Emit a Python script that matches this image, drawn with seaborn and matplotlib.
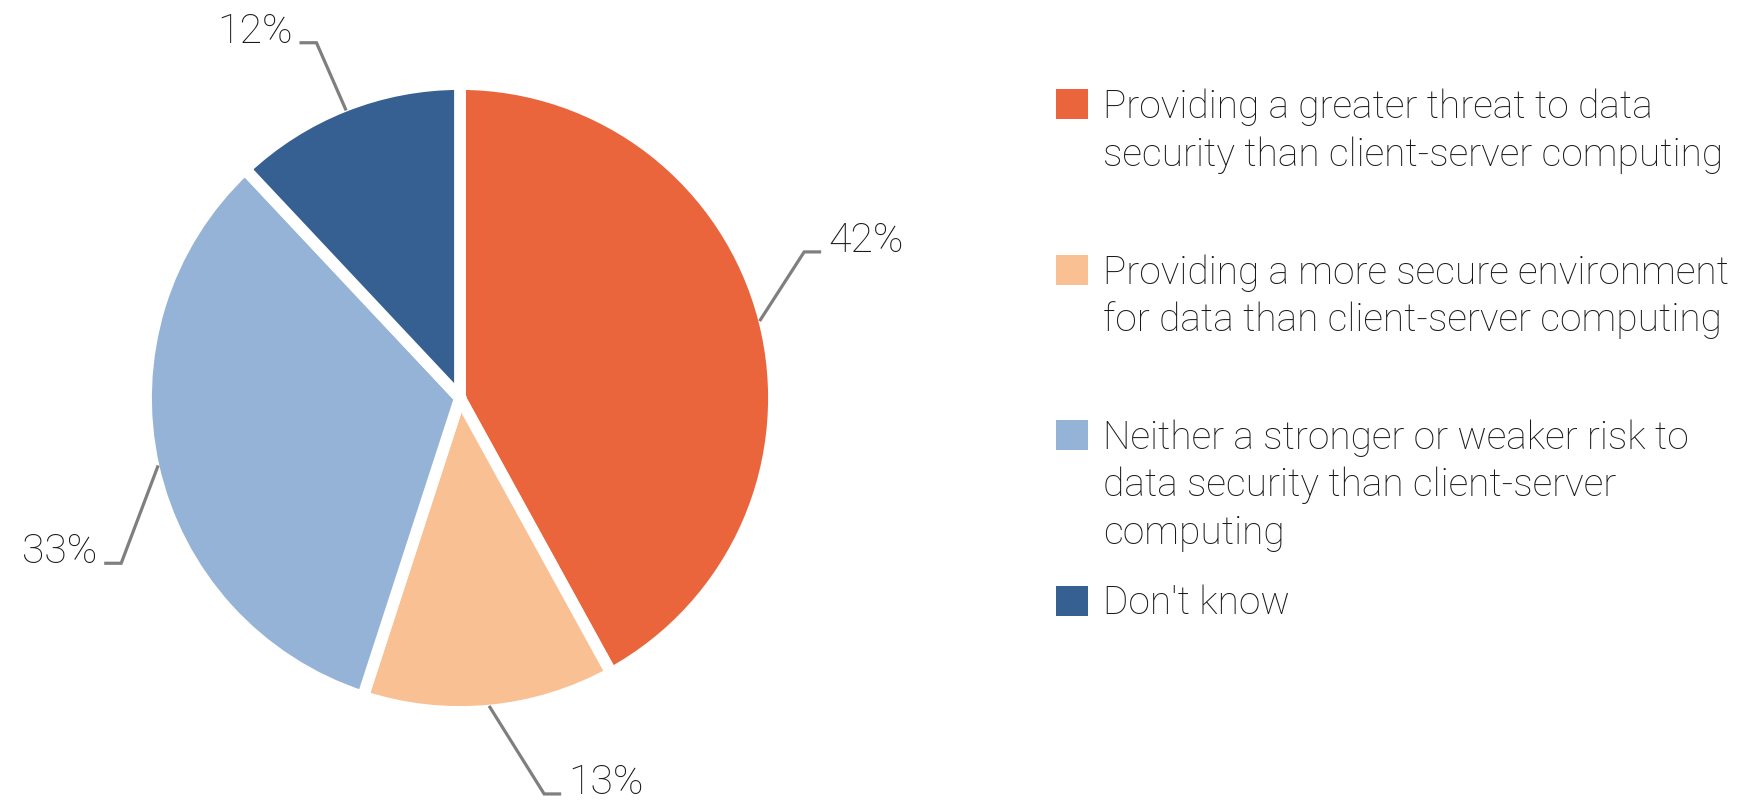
import matplotlib
matplotlib.use("Agg")
import matplotlib.pyplot as plt
import matplotlib.patches as mpatches
import numpy as np
import seaborn as sns

# ---- data ----
categories = [
    "Providing a greater threat to data\nsecurity than client-server computing",
    "Providing a more secure environment\nfor data than client-server computing",
    "Neither a stronger or weaker risk to\ndata security than client-server\ncomputing",
    "Don't know",
]
values = [42, 13, 33, 12]
pct_labels = ["42%", "13%", "33%", "12%"]
colors = ["#EA653B", "#F9C193", "#95B3D7", "#366092"]

sns.set_theme(style="white")
plt.rcParams["font.family"] = ["Roboto", "DejaVu Sans"]

W, H = 1754, 801
fig = plt.figure(figsize=(W / 100, H / 100), dpi=100)
ax = fig.add_axes([0, 0, 1, 1])

R = 314
cx, cy = 460, H - 398
palette = sns.color_palette(colors)
wedges, _ = ax.pie(values, colors=palette, startangle=90, counterclock=False,
                   radius=R, center=(cx, cy),
                   wedgeprops=dict(edgecolor="white", linewidth=8.5))
ax.set_xlim(0, W)
ax.set_ylim(0, H)
ax.set_aspect("equal")
ax.axis("off")

# leader line layout: (elbow angle deg, elbow radius frac, direction)
leader = [(23, 1.21, 1), (-78, 1.31, 1), (-154, 1.22, -1), (112, 1.24, -1)]
line_col = "#7f7f7f"
txt_col = "#1a1a1a"
for w, lab, (ea, er, d) in zip(wedges, pct_labels, leader):
    mid = np.deg2rad((w.theta1 + w.theta2) / 2)
    x0, y0 = cx + 0.985 * R * np.cos(mid), cy + 0.985 * R * np.sin(mid)
    ear = np.deg2rad(ea)
    x1, y1 = cx + er * 309 * np.cos(ear), cy + er * 309 * np.sin(ear)
    x2 = x1 + d * 17
    ax.plot([x0, x1, x2], [y0, y1, y1], color=line_col, lw=2.3,
            solid_joinstyle="miter", solid_capstyle="butt")
    ax.text(x2 + d * 7, y1, lab, ha="left" if d > 0 else "right",
            va="baseline", fontsize=29.5, color=txt_col, fontweight="light")

# legend
lx_box, box_w, box_h = 1056, 32, 30
lx_txt = 1103
first_base = 118
entry_step = 165.5
line_step = 47.5
for i, (cat, col) in enumerate(zip(categories, palette)):
    b = first_base + i * entry_step
    ax.add_patch(mpatches.Rectangle((lx_box, H - b - 1), box_w, box_h,
                                    facecolor=col, edgecolor="none"))
    for k, line in enumerate(cat.split("\n")):
        ax.text(lx_txt, H - (b + k * line_step), line, ha="left",
                va="baseline", fontsize=28, color=txt_col, fontweight="light")

fig.savefig("out.png", dpi=100, facecolor="white")
